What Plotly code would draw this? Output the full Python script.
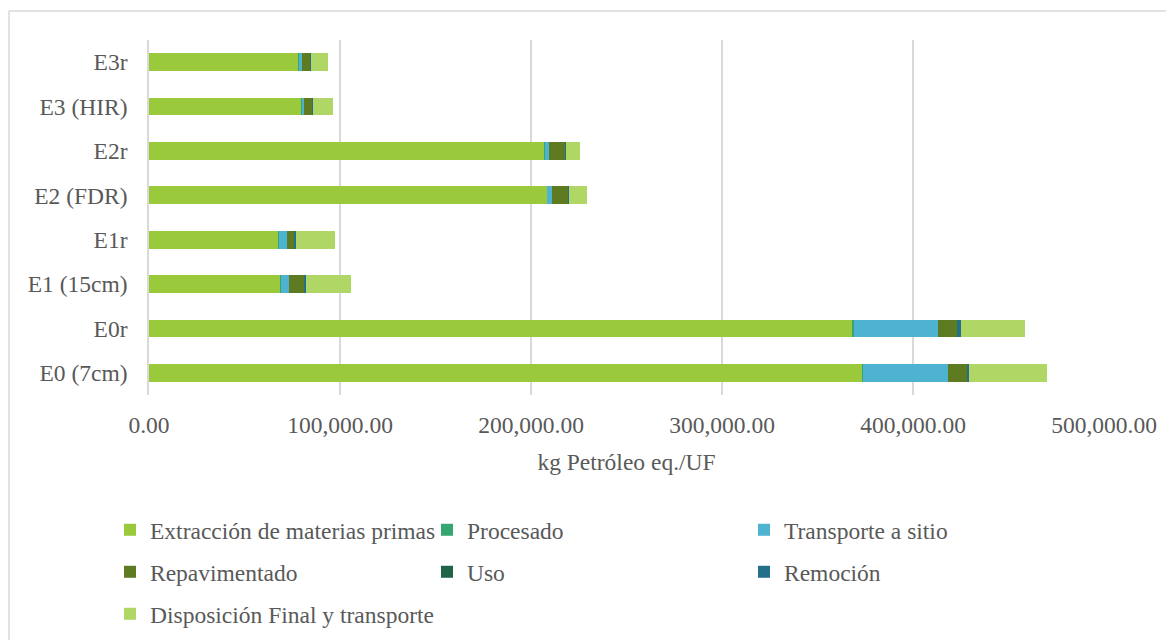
import plotly.graph_objects as go

categories = ["E0 (7cm)", "E0r", "E1 (15cm)", "E1r", "E2 (FDR)", "E2r", "E3 (HIR)", "E3r"]

extraccion = [373300, 368400, 68700, 67600, 208400, 207000, 79800, 78400]
procesado = [500, 500, 200, 200, 200, 200, 200, 200]
transporte = [44300, 44100, 4200, 4400, 2300, 2100, 1200, 1700]
repavimentado = [10500, 10100, 8400, 4000, 8500, 8700, 4200, 4200]
uso = [0, 0, 0, 0, 0, 0, 0, 0]
remocion = [900, 1900, 500, 500, 500, 500, 500, 500]
disposicion = [40700, 33500, 23500, 20600, 9200, 7000, 10300, 8900]

series = [
    ("Extracción de materias primas", extraccion, "#9ACA3C", "legend"),
    ("Procesado", procesado, "#35A672", "legend"),
    ("Transporte a sitio", transporte, "#4EB3D1", "legend"),
    ("Repavimentado", repavimentado, "#5E7B22", "legend2"),
    ("Uso", uso, "#1F6447", "legend2"),
    ("Remoción", remocion, "#246F8A", "legend2"),
    ("Disposición Final y transporte", disposicion, "#B0D766", "legend3"),
]

FONT = "'Times New Roman', Tinos, 'Liberation Serif', 'DejaVu Serif', serif"
GRAY = "#595959"
FS = 23.5
OFF = 8  # page body margin

fig = go.Figure()
for name, vals, color, leg in series:
    fig.add_trace(go.Bar(
        y=categories, x=vals, name=name, orientation="h",
        marker=dict(color=color, line=dict(width=0)),
        legend=leg,
    ))

W, H = 1174, 640
L, R, T, B = 149 - OFF, 1174 - (1104 - OFF), 40 - OFF, 640 - (395 - OFF)
pw, ph = W - L - R, H - T - B

def px2x(p):
    return (p - OFF - L) / pw

def px2y(p):
    return (H - B - (p - OFF)) / ph

def leg(y_px, ew):
    return dict(
        orientation="h", xref="container", yref="container", xanchor="left", yanchor="middle",
        x=(110 - OFF) / W, y=1 - (y_px - OFF) / H,
        font=dict(family=FONT, size=FS, color=GRAY), entrywidth=ew, entrywidthmode="pixels",
        itemwidth=30, bgcolor="rgba(0,0,0,0)", traceorder="normal",
    )

fig.update_layout(
    width=W, height=H,
    margin=dict(l=L, r=R, t=T, b=B),
    barmode="stack", bargap=0.6,
    plot_bgcolor="white", paper_bgcolor="white",
    font=dict(family=FONT, size=FS, color=GRAY),
    xaxis=dict(
        range=[0, 500000], tickvals=[0, 100000, 200000, 300000, 400000, 500000],
        tickformat=",.2f", showgrid=True, gridcolor="#D9D9D9", gridwidth=1.5,
        zeroline=False, showline=False, ticks="", ticklabelstandoff=13,
        tickfont=dict(family=FONT, size=FS, color=GRAY),
        title=dict(text="kg Petróleo eq./UF", font=dict(family=FONT, size=FS, color=GRAY), standoff=17),
    ),
    yaxis=dict(
        categoryorder="array", categoryarray=categories,
        showgrid=False, showline=True, linecolor="#D9D9D9", linewidth=1.5,
        ticks="", ticklabelstandoff=15,
        tickfont=dict(family=FONT, size=FS, color=GRAY),
    ),
    legend=leg(530, 272),
    legend2=leg(572, 272),
    legend3=leg(614, 360),
    shapes=[
        dict(type="line", xref="paper", yref="paper",
             x0=px2x(9), x1=px2x(1190), y0=px2y(11), y1=px2y(11),
             line=dict(color="#D9D9D9", width=1.5)),
        dict(type="line", xref="paper", yref="paper",
             x0=px2x(9), x1=px2x(9), y0=px2y(11), y1=px2y(660),
             line=dict(color="#D9D9D9", width=1.5)),
    ],
)

fig.write_html("out.html")
